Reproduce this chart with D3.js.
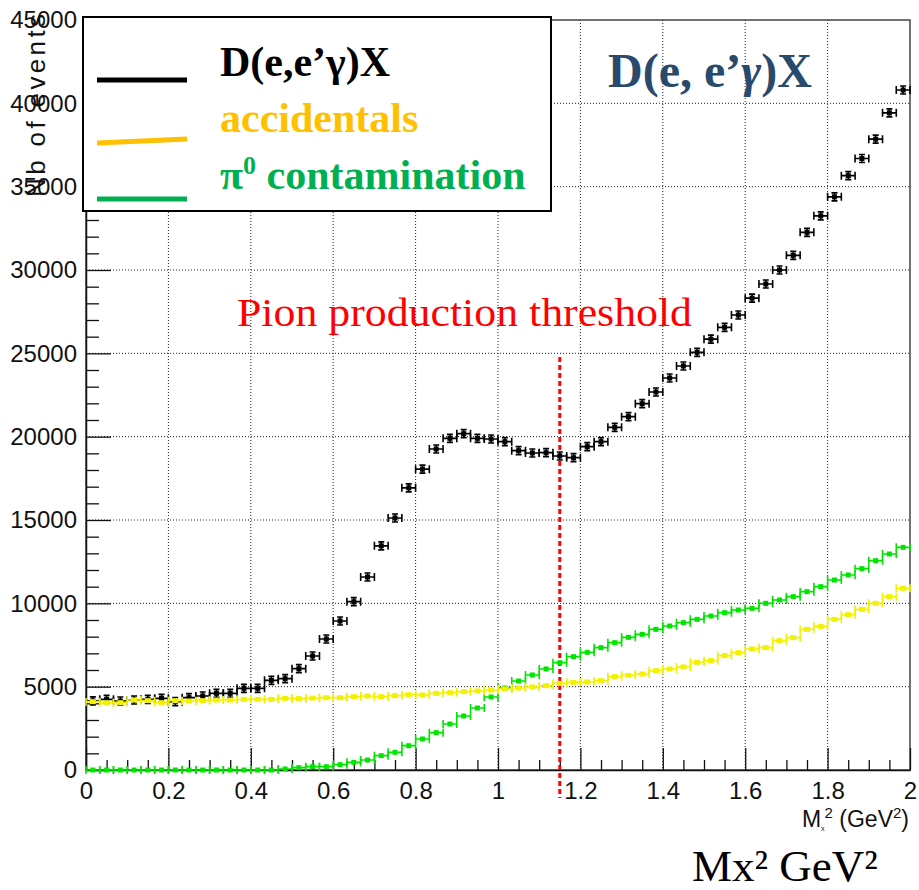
<!DOCTYPE html>
<html>
<head>
<meta charset="utf-8">
<script src="https://cdn.jsdelivr.net/npm/d3@7"></script>
<style>
  body { margin: 0; background: #fff; }
</style>
</head>
<body>
<div id="chart"></div>
<script>
// binning: 60 bins of missing mass squared between 0 and 2 GeV^2
const nBins = 60, xMin = 0, xMax = 2;
const xTicks = [0, 0.2, 0.4, 0.6, 0.8, 1, 1.2, 1.4, 1.6, 1.8, 2];
const yTicks = [0, 5000, 10000, 15000, 20000, 25000, 30000, 35000, 40000, 45000];
const threshold = 1.15;

// D(e,e'gamma)X counts
const signal = [4150, 4240, 4140, 4200, 4240, 4300, 4100, 4340, 4440, 4600,
  4600, 4900, 4900, 5380, 5480, 6080, 6840, 7860, 8940, 10100,
  11580, 13450, 15120, 16930, 18050, 19260, 19900, 20180, 19900, 19860,
  19700, 19160, 19020, 19040, 18840, 18740, 19400, 19700, 20560, 21200,
  21980, 22680, 23520, 24240, 25060, 25850, 26560, 27300, 28310, 29160,
  30000, 30880, 32260, 33250, 34390, 35660, 36690, 37850, 39430, 40800];

// accidentals
const accidentals = [4100, 4040, 4040, 4200, 4160, 4040, 4160, 4140, 4160, 4200,
  4200, 4240, 4240, 4240, 4300, 4280, 4320, 4340, 4340, 4400,
  4440, 4400, 4460, 4520, 4500, 4600, 4640, 4700, 4740, 4800,
  4860, 4920, 4980, 5060, 5200, 5260, 5280, 5360, 5600, 5680,
  5760, 5960, 6060, 6180, 6460, 6560, 6860, 7040, 7260, 7340,
  7760, 7940, 8440, 8620, 9040, 9320, 9640, 10000, 10400, 10900];

// pi0 contamination
const pi0 = [0, 0, 0, 0, 0, 0, 0, 0, 0, 0,
  0, 0, 0, 0, 60, 140, 200, 200, 320, 460,
  600, 860, 1060, 1460, 1860, 2240, 2760, 3240, 3720, 4380,
  4920, 5340, 5700, 6060, 6440, 6800, 7060, 7340, 7640, 7960,
  8140, 8440, 8640, 8840, 9040, 9240, 9440, 9600, 9700, 10000,
  10200, 10400, 10700, 11000, 11400, 11700, 12080, 12560, 12960, 13360];

const W = 919, H = 890;
const padL = 86, padR = 910, padT = 20, padB = 770;

const svg = d3.select("#chart").append("svg")
  .attr("width", W).attr("height", H)
  .style("font-family", "'Liberation Sans', Arial, sans-serif");

const x = d3.scaleLinear().domain([xMin, xMax]).range([padL, padR]);
const y = d3.scaleLinear().domain([0, 45000]).range([padB, padT]);
const bw = (xMax - xMin) / nBins;

// grid
const grid = svg.append("g").attr("stroke", "#222").attr("stroke-width", 1)
  .attr("stroke-dasharray", "1,2");
grid.selectAll(".gx").data(xTicks.slice(1, -1)).join("line")
  .attr("x1", d => x(d)).attr("x2", d => x(d))
  .attr("y1", padT).attr("y2", padB);
grid.selectAll(".gy").data(yTicks.slice(1, -1)).join("line")
  .attr("y1", d => y(d)).attr("y2", d => y(d))
  .attr("x1", padL).attr("x2", padR);

// frame
svg.append("rect").attr("x", padL).attr("y", padT)
  .attr("width", padR - padL).attr("height", padB - padT)
  .attr("fill", "none").attr("stroke", "#444").attr("stroke-width", 1.5);

// minor ticks
const xMinor = d3.range(0, 41).map(i => i * 0.05).filter((v, i) => i % 4 !== 0);
const yMinor = d3.range(1, 45).map(i => i * 1000).filter(v => v % 5000 !== 0);

svg.append("g").attr("transform", `translate(0,${padB})`)
  .call(d3.axisBottom(x).tickValues(xMinor).tickSize(-10).tickSizeOuter(0).tickFormat(""))
  .call(g => g.select(".domain").remove());
svg.append("g").attr("transform", `translate(${padL},0)`)
  .call(d3.axisLeft(y).tickValues(yMinor).tickSize(-13).tickSizeOuter(0).tickFormat(""))
  .call(g => g.select(".domain").remove());

// major axes
const xAxis = svg.append("g").attr("transform", `translate(0,${padB})`)
  .call(d3.axisBottom(x).tickValues(xTicks).tickSize(-22).tickSizeOuter(0)
    .tickPadding(12).tickFormat(d => String(+d.toFixed(1))));
const yAxis = svg.append("g").attr("transform", `translate(${padL},0)`)
  .call(d3.axisLeft(y).tickValues(yTicks).tickSize(-25).tickSizeOuter(0)
    .tickPadding(9).tickFormat(d3.format("d")));
[xAxis, yAxis].forEach(a => {
  a.selectAll("text").attr("font-size", 24).attr("fill", "#111")
    .attr("font-family", "'Liberation Sans', Arial, sans-serif");
  a.select(".domain").attr("stroke", "#111").attr("stroke-width", 1.5);
});
svg.selectAll("g.tick line").attr("stroke", "#111").attr("stroke-width", 1.3);

// y title (partly hidden behind the tick labels, as in ROOT)
svg.append("text")
  .attr("transform", "translate(45,14) rotate(-90)")
  .attr("text-anchor", "end")
  .attr("font-size", 26)
  .attr("textLength", 183).attr("lengthAdjust", "spacing")
  .attr("fill", "#111")
  .text("Nb of events");

// x title
const xt = svg.append("text").attr("x", 909).attr("y", 827)
  .attr("text-anchor", "end").attr("font-size", 23).attr("fill", "#111");
xt.append("tspan").text("M");
xt.append("tspan").attr("dy", 4).attr("font-size", 7).text("x");
xt.append("tspan").attr("dy", -13).attr("font-size", 15).text("2");
xt.append("tspan").attr("dy", 9).text(" (GeV");
xt.append("tspan").attr("dy", -9).attr("font-size", 15).text("2");
xt.append("tspan").attr("dy", 9).text(")");

// threshold line
svg.append("line")
  .attr("x1", x(threshold)).attr("x2", x(threshold))
  .attr("y1", 357).attr("y2", 798)
  .attr("stroke", "#ff0000").attr("stroke-width", 3)
  .attr("stroke-dasharray", "5,3");

svg.append("text")
  .attr("x", 237).attr("y", 326)
  .attr("font-family", "'Liberation Serif', 'DejaVu Serif', serif")
  .attr("font-size", 40).attr("fill", "#ff0000")
  .attr("textLength", 455).attr("lengthAdjust", "spacingAndGlyphs")
  .text("Pion production threshold");

// histogram points with bin-width error bars
function drawSeries(vals, color, withYErr, mw) {
  const pts = vals.map((v, i) => ({ lo: xMin + i * bw, hi: xMin + (i + 1) * bw, c: xMin + (i + 0.5) * bw, v }));
  const g = svg.append("g");
  g.selectAll("path").data(pts).join("path")
    .attr("d", d => {
      const yy = y(d.v);
      let p = `M${x(d.lo)},${yy}H${x(d.hi)}M${x(d.lo)},${yy - 4}V${yy + 4}M${x(d.hi)},${yy - 4}V${yy + 4}`;
      if (withYErr) p += `M${x(d.c)},${yy - 4}V${yy + 4}M${x(d.c) - 3},${yy - 4}H${x(d.c) + 3}M${x(d.c) - 3},${yy + 4}H${x(d.c) + 3}`;
      return p;
    })
    .attr("fill", "none").attr("stroke", color).attr("stroke-width", 1.6);
  g.selectAll("rect").data(pts).join("rect")
    .attr("x", d => x(d.c) - mw / 2).attr("y", d => y(d.v) - 2.5)
    .attr("width", mw).attr("height", 5).attr("fill", color);
}

drawSeries(signal, "#000", true, 5);
drawSeries(pi0, "#00e400", false, 5);
drawSeries(accidentals, "#f2f200", false, 6);

// legend
const lg = svg.append("g");
lg.append("rect").attr("x", 83).attr("y", 17).attr("width", 468).attr("height", 194)
  .attr("fill", "#fff").attr("stroke", "#000").attr("stroke-width", 2);
lg.append("line").attr("x1", 97).attr("x2", 187).attr("y1", 80).attr("y2", 80)
  .attr("stroke", "#000").attr("stroke-width", 5);
lg.append("line").attr("x1", 97).attr("x2", 187).attr("y1", 143).attr("y2", 139)
  .attr("stroke", "#ffc000").attr("stroke-width", 5);
lg.append("line").attr("x1", 97).attr("x2", 187).attr("y1", 199).attr("y2", 199)
  .attr("stroke", "#00b050").attr("stroke-width", 5);

const serifBold = "'Liberation Serif', 'DejaVu Serif', serif";
lg.append("text").attr("x", 220).attr("y", 76)
  .attr("font-family", serifBold).attr("font-weight", "bold").attr("font-size", 42)
  .attr("fill", "#000").text("D(e,e’γ)X");
lg.append("text").attr("x", 220).attr("y", 132)
  .attr("font-family", serifBold).attr("font-weight", "bold").attr("font-size", 42)
  .attr("fill", "#ffc000").text("accidentals");
const pt = lg.append("text").attr("x", 220).attr("y", 189)
  .attr("font-family", serifBold).attr("font-weight", "bold").attr("font-size", 42)
  .attr("fill", "#00b050");
pt.append("tspan").text("π");
pt.append("tspan").attr("dy", -15).attr("font-size", 26).text("0");
pt.append("tspan").attr("dy", 15).text(" contamination");

// reaction label
const rl = svg.append("text").attr("x", 608).attr("y", 87)
  .attr("font-family", serifBold).attr("font-weight", "bold").attr("font-size", 48)
  .attr("fill", "#294a6d");
rl.append("tspan").text("D(e, e’");
rl.append("tspan").attr("font-style", "italic").text("γ");
rl.append("tspan").text(")X");

// units note under the axis
svg.append("text").attr("x", 692).attr("y", 881)
  .attr("font-family", "'Liberation Serif', 'DejaVu Serif', serif")
  .attr("font-size", 45).attr("fill", "#000")
  .text("Mx² GeV²");
</script>
</body>
</html>
